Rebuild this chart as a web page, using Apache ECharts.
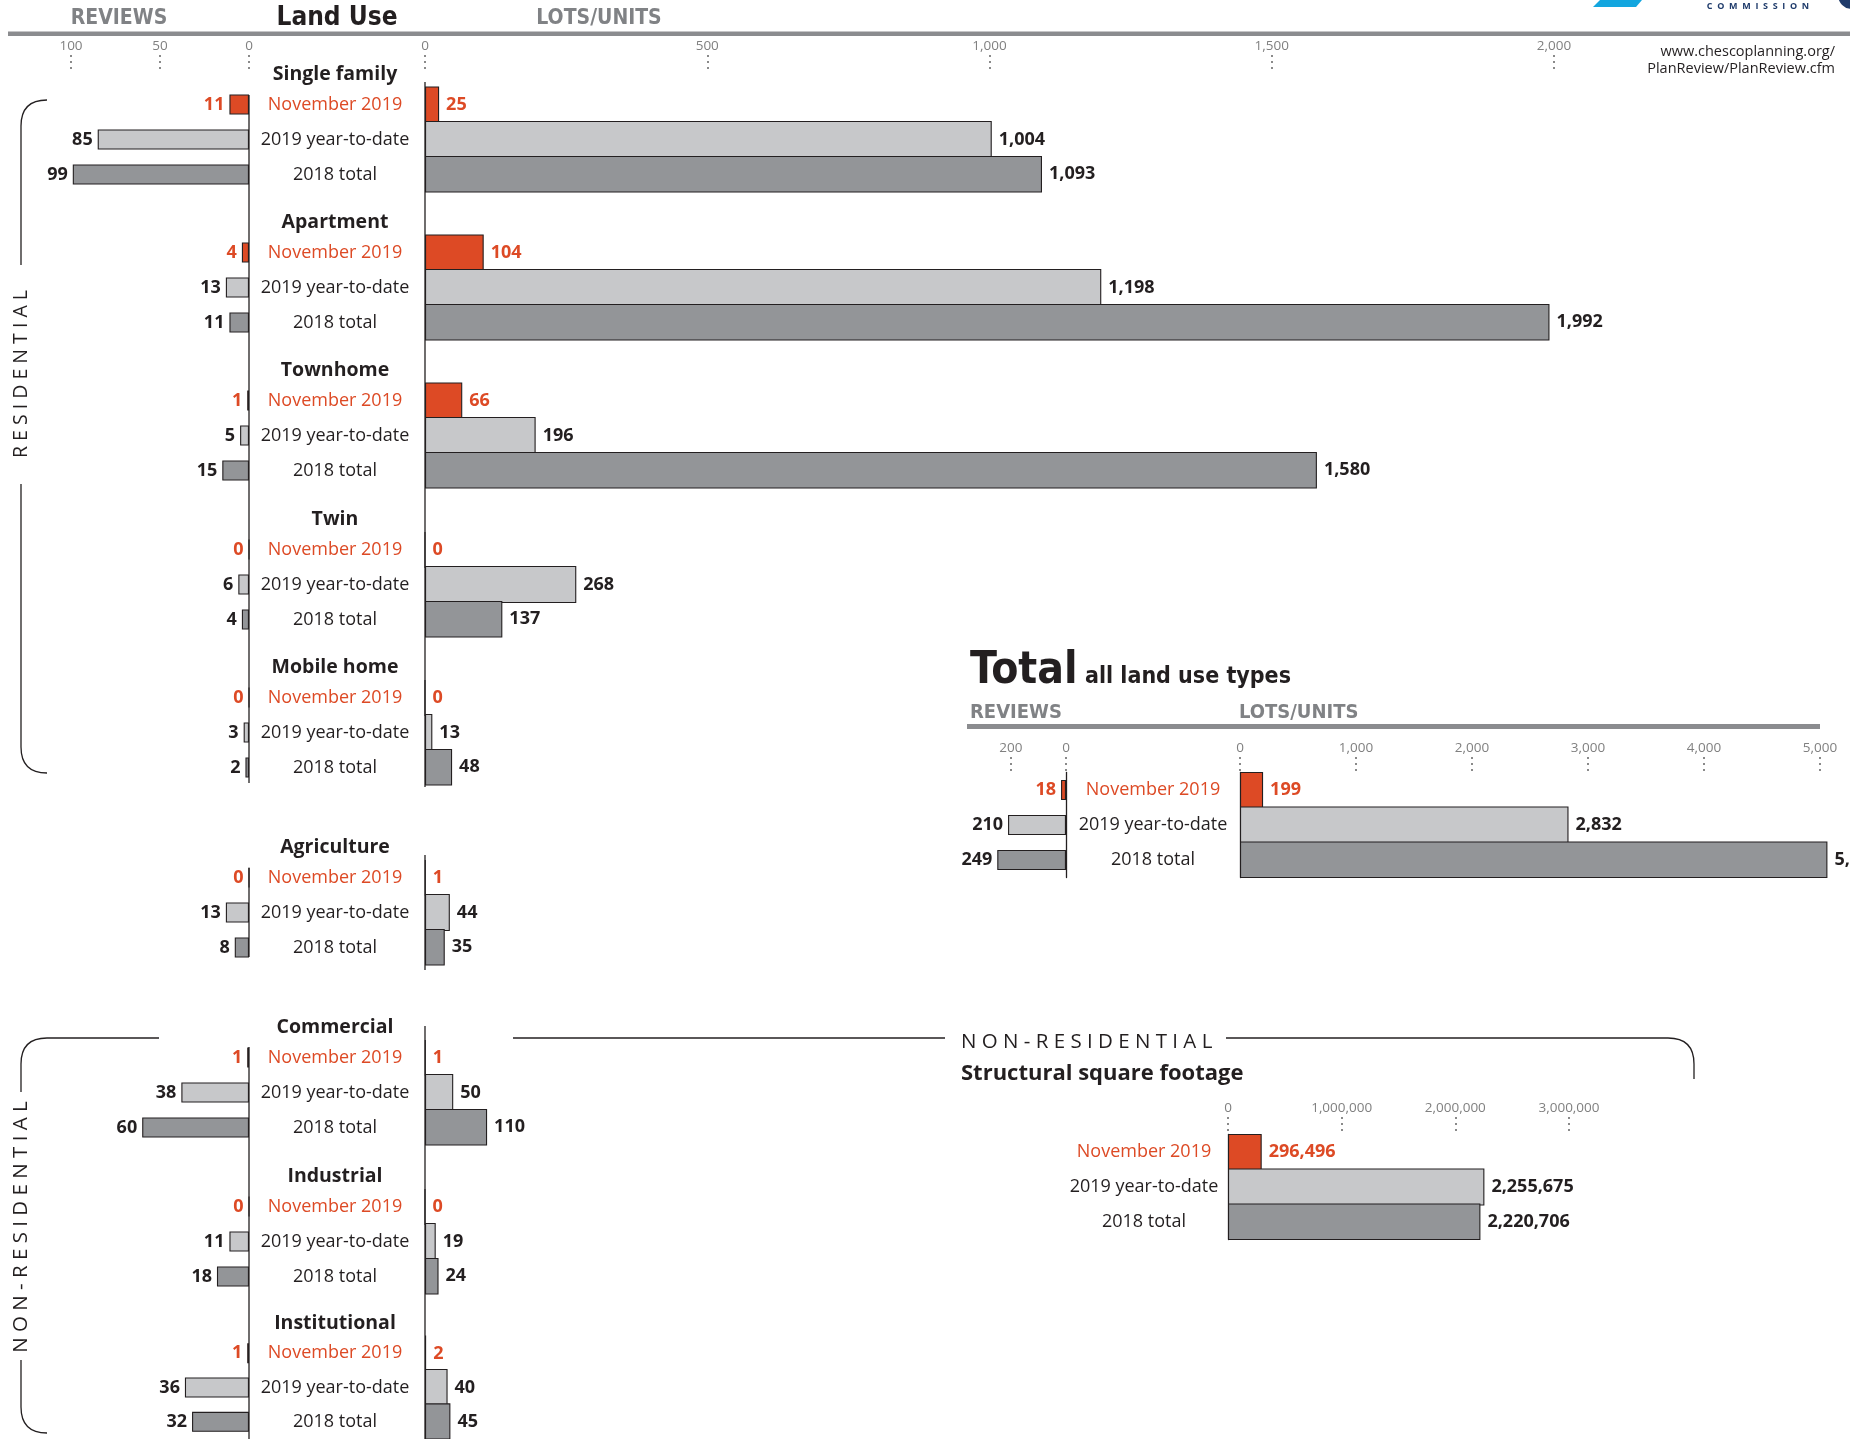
<!DOCTYPE html>
<html>
<head>
<meta charset="utf-8">
<script src="https://cdn.jsdelivr.net/npm/echarts@6/dist/echarts.min.js"></script>
<style>
html,body{margin:0;padding:0;background:#fff;}
#chart{width:1850px;height:1439px;}
</style>
</head>
<body>
<div id="chart"></div>
<script>
// ---------------- DATA ----------------
const categories = ['November 2019', '2019 year-to-date', '2018 total'];
const groupNames = ['Single family', 'Apartment', 'Townhome', 'Twin', 'Mobile home', 'Agriculture', 'Commercial', 'Industrial', 'Institutional'];
const reviewsNov  = [11, 4, 1, 0, 0, 0, 1, 0, 1];
const reviewsYTD  = [85, 13, 5, 6, 3, 13, 38, 11, 36];
const reviews2018 = [99, 11, 15, 4, 2, 8, 60, 18, 32];
const lotsNov  = [25, 104, 66, 0, 0, 1, 1, 0, 2];
const lotsYTD  = [1004, 1198, 196, 268, 13, 44, 50, 19, 40];
const lots2018 = [1093, 1992, 1580, 137, 48, 35, 110, 24, 45];
const totalReviews = [18, 210, 249];
const totalLots = [199, 2832, 5064];
const sqftValues = [296496, 2255675, 2220706];
const reviewTicks = [0, 50, 100];
const lotTicks = [0, 500, 1000, 1500, 2000];
const totalReviewTicks = [0, 200];
const totalLotTicks = [0, 1000, 2000, 3000, 4000, 5000];
const sqftTicks = [0, 1000000, 2000000, 3000000];

// ---------------- LAYOUT / STYLE ----------------
const groupHeaderY = [74, 222, 370, 519, 667, 847, 1027, 1176, 1323];
const RED = '#dd4a25', LIGHT = '#c7c8ca', DARKG = '#939598', INK = '#231f20', GRAY = '#808285';
const FILLS = [RED, LIGHT, DARKG];
const FONT = '"Open Sans", "Noto Sans", sans-serif';
const COND = '"DejaVu Sans Condensed", "Liberation Sans Narrow", "Open Sans", sans-serif';
const ROW = 35;
const fmt = v => Number(v).toLocaleString('en-US');

const grids = [], xAxes = [], yAxes = [], series = [];

function axisGrid(left, width, top, max, ticks, inverse) {
  grids.push({left: left, top: top, width: width, height: 14});
  const gi = grids.length - 1;
  xAxes.push({
    gridIndex: gi, type: 'value', position: 'top', min: 0, max: max, inverse: !!inverse,
    axisLine: {show: false}, splitLine: {show: false},
    axisTick: {show: true, inside: true, length: 14, customValues: ticks,
      lineStyle: {color: '#8a8a8a', width: 2, type: [2, 4]}},
    axisLabel: {show: true, customValues: ticks, margin: 2, fontSize: 13.5, color: '#808080',
      fontFamily: FONT, formatter: v => fmt(v)}
  });
  yAxes.push({gridIndex: gi, type: 'category', show: false, data: ['']});
}

function items(vals) {
  return vals.map((v, i) => ({
    value: v,
    itemStyle: {color: FILLS[i]},
    label: {color: i === 0 ? RED : INK}
  }));
}

function barGrid(opt) {
  grids.push({left: opt.left, top: opt.top, width: opt.width, height: ROW * 3});
  const gi = grids.length - 1;
  xAxes.push({gridIndex: gi, type: 'value', min: 0, max: opt.max, inverse: !!opt.inverse, show: false});
  yAxes.push({
    gridIndex: gi, type: 'category', data: categories, inverse: true,
    position: opt.yPos || 'left',
    axisLine: {show: !!opt.axisLine, lineStyle: {color: INK, width: 1.3}},
    axisTick: {show: false}, splitLine: {show: false},
    axisLabel: opt.center ? {
      show: true, margin: opt.center, align: 'center', fontSize: 18, fontFamily: FONT,
      color: (v, i) => (i === 0 ? RED : INK)
    } : {show: false}
  });
  series.push({
    type: 'bar', xAxisIndex: gi, yAxisIndex: gi, barWidth: opt.barWidth,
    data: items(opt.values), animation: false,
    itemStyle: {borderColor: INK, borderWidth: 1.1},
    label: {show: true, position: opt.inverse ? 'left' : 'right', distance: opt.dist,
      fontSize: 18, fontWeight: 'bold', fontFamily: FONT, formatter: p => fmt(p.value)}
  });
}

// top axes for the land-use panel
axisGrid(71, 178, 55, 100, reviewTicks, true);
axisGrid(425, 1129, 55, 2000, lotTicks, false);

groupNames.forEach((name, g) => {
  const top = groupHeaderY[g] + 13;
  barGrid({left: 71, width: 178, top: top, max: 100, inverse: true, yPos: 'right', center: 86,
    values: [reviewsNov[g], reviewsYTD[g], reviews2018[g]], barWidth: 20, dist: 5});
  barGrid({left: 425, width: 1129, top: top, max: 2000,
    values: [lotsNov[g], lotsYTD[g], lots2018[g]], barWidth: 37, dist: 7});
});

// Total panel
axisGrid(997, 69, 757, 250, totalReviewTicks, true);
axisGrid(1240, 591.6, 757, 5100, totalLotTicks, false);
barGrid({left: 997, width: 69, top: 772.5, max: 250, inverse: true, yPos: 'right', center: 87,
  values: totalReviews, barWidth: 20, dist: 5, axisLine: true});
barGrid({left: 1240, width: 591.6, top: 772.5, max: 5100, values: totalLots, barWidth: 37, dist: 7, axisLine: true});

// Square footage panel
axisGrid(1228, 341, 1117, 3000000, sqftTicks, false);
barGrid({left: 1228, width: 341, top: 1134.5, max: 3000000, yPos: 'left', center: 84,
  values: sqftValues, barWidth: 37, dist: 7, axisLine: true});

// ---------------- DECORATION ----------------
function txt(text, x, y, size, opts) {
  opts = opts || {};
  const style = {text: text, fill: opts.color || INK, fontSize: size, fontWeight: opts.weight || 'normal',
    fontFamily: opts.family || FONT, align: opts.align || 'left', verticalAlign: opts.v || 'middle'};
  if (opts.lh) style.lineHeight = opts.lh;
  return {type: 'text', x: x, y: y, rotation: opts.rotation || 0, silent: true, style: style};
}
function line(x1, y1, x2, y2, w) {
  return {type: 'line', silent: true, shape: {x1: x1, y1: y1, x2: x2, y2: y2},
    style: {stroke: INK, lineWidth: w || 1.3}};
}
function curve(x1, y1, cx, cy, x2, y2) {
  return {type: 'bezierCurve', silent: true,
    shape: {x1: x1, y1: y1, cpx1: cx, cpy1: cy, x2: x2, y2: y2},
    style: {stroke: INK, fill: null, lineWidth: 1.3}};
}

const graphics = [
  // header
  txt('REVIEWS', 119, 19, 21, {weight: 'bold', family: COND, color: GRAY, align: 'center'}),
  txt('Land Use', 337, 18, 26, {weight: 'bold', family: COND, align: 'center'}),
  txt('LOTS/UNITS', 599, 19, 21, {weight: 'bold', family: COND, color: GRAY, align: 'center'}),
  {type: 'rect', silent: true, shape: {x: 8, y: 31.5, width: 1842, height: 4.5}, style: {fill: '#8b8c8f'}},
  txt('www.chescoplanning.org/\nPlanReview/PlanReview.cfm', 1835, 43, 14.5, {align: 'right', v: 'top', lh: 17}),
  // logo fragment
  {type: 'polygon', silent: true, shape: {points: [[1600, 0], [1642, 0], [1636, 7], [1593, 7]]}, style: {fill: '#13a6df'}},
  txt('C  O  M  M  I  S  S  I  O  N', 1758, 6, 9, {align: 'center', color: '#1f3b6b', weight: 'bold'}),
  {type: 'circle', silent: true, shape: {cx: 1852, cy: -5, r: 14}, style: {fill: '#1f3b6b'}},
  // group headers
  ...groupNames.map((n, g) => txt(n, 335, groupHeaderY[g], 19.5, {weight: 'bold', align: 'center'})),
  // axis zero lines for the land-use panel
  line(249, 95, 249, 783), line(425, 82, 425, 787),
  line(249, 868, 249, 957), line(425, 855, 425, 970),
  line(249, 1047, 249, 1439), line(425, 1026, 425, 1439),
  // residential bracket
  curve(47, 100, 21, 100, 21, 126), line(21, 126, 21, 265),
  line(21, 484, 21, 747), curve(21, 747, 21, 773, 47, 773),
  txt('R E S I D E N T I A L', 21, 374, 19.5, {align: 'center', rotation: Math.PI / 2}),
  // non-residential bracket (left)
  line(159, 1038, 47, 1038), curve(47, 1038, 21, 1038, 21, 1064), line(21, 1064, 21, 1092),
  line(21, 1360, 21, 1407), curve(21, 1407, 21, 1433, 47, 1433),
  txt('N O N - R E S I D E N T I A L', 21, 1227, 20.5, {align: 'center', rotation: Math.PI / 2}),
  // non-residential bracket (right)
  line(513, 1038, 945, 1038), line(1226, 1038, 1668, 1038),
  curve(1668, 1038, 1694, 1038, 1694, 1064), line(1694, 1064, 1694, 1079),
  txt('N O N - R E S I D E N T I A L', 961, 1042, 20.5, {}),
  txt('Structural square footage', 961, 1074, 22, {weight: 'bold'}),
  // total panel header
  txt('Total', 970, 694, 44, {weight: 'bold', family: COND, v: 'bottom'}),
  txt('all land use types', 1085, 689, 23, {weight: 'bold', family: COND, v: 'bottom'}),
  txt('REVIEWS', 970, 713, 20, {weight: 'bold', family: COND, color: GRAY}),
  txt('LOTS/UNITS', 1239, 713, 20, {weight: 'bold', family: COND, color: GRAY}),
  {type: 'rect', silent: true, shape: {x: 967, y: 724, width: 853, height: 5}, style: {fill: '#8b8c8f'}}
];

const chart = echarts.init(document.getElementById('chart'), null, {renderer: 'canvas'});
chart.setOption({
  backgroundColor: '#ffffff',
  animation: false,
  grid: grids,
  xAxis: xAxes,
  yAxis: yAxes,
  series: series,
  graphic: graphics
});
</script>
</body>
</html>
